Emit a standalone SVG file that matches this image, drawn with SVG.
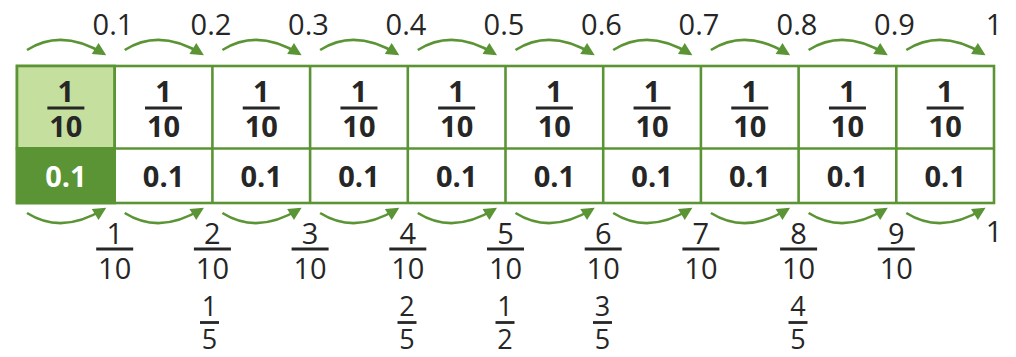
<svg xmlns="http://www.w3.org/2000/svg" width="1016" height="357" viewBox="0 0 1016 357">
<style>
.t{font-family:"Open Sans","Noto Sans",sans-serif;fill:#262626;text-anchor:middle}
.lab{font-size:29px}
.fr{font-size:29px}
.sf{font-size:27px}
.cf{font-size:29px;font-weight:bold}
.cv{font-size:29px;font-weight:bold}
.w{fill:#ffffff}
.bar{stroke:#262626;stroke-width:2.8}
.arc{fill:none;stroke:#5a9434;stroke-width:2.6;marker-end:url(#ah)}
.cell{fill:#ffffff;stroke:#5a9434;stroke-width:2.6}
</style>
<defs>
<marker id="ah" viewBox="0 0 10 10" refX="8" refY="5" markerWidth="15" markerHeight="13" markerUnits="userSpaceOnUse" orient="auto">
<path d="M0,0 L10,5 L0,10 z" fill="#5a9434"/>
</marker>
<g id="cellfrac">
<text class="t cf" x="0" y="102">1</text>
<line class="bar" x1="-18.5" y1="108" x2="18.5" y2="108"/>
<text class="t cf" x="0" y="137">10</text>
</g>
</defs>
<rect width="1016" height="357" fill="#ffffff"/>

<g id="grid">
<rect class="cell" x="17" y="66" width="977" height="137"/>
<rect x="17" y="66" width="97.7" height="82.5" fill="#c5df9f" stroke="#5a9434" stroke-width="2.6"/>
<rect x="17" y="148.5" width="97.7" height="54.5" fill="#5a9434" stroke="#5a9434" stroke-width="2.6"/>
<line x1="17" y1="148.5" x2="994" y2="148.5" stroke="#5a9434" stroke-width="2.6"/>
<g stroke="#5a9434" stroke-width="2.6">
<line x1="114.7" y1="66" x2="114.7" y2="203"/>
<line x1="212.4" y1="66" x2="212.4" y2="203"/>
<line x1="310.1" y1="66" x2="310.1" y2="203"/>
<line x1="407.8" y1="66" x2="407.8" y2="203"/>
<line x1="505.5" y1="66" x2="505.5" y2="203"/>
<line x1="603.2" y1="66" x2="603.2" y2="203"/>
<line x1="700.9" y1="66" x2="700.9" y2="203"/>
<line x1="798.6" y1="66" x2="798.6" y2="203"/>
<line x1="896.3" y1="66" x2="896.3" y2="203"/>
</g>
</g>

<g id="cells">
<use href="#cellfrac" x="65.85"/>
<use href="#cellfrac" x="163.55"/>
<use href="#cellfrac" x="261.25"/>
<use href="#cellfrac" x="358.95"/>
<use href="#cellfrac" x="456.65"/>
<use href="#cellfrac" x="554.35"/>
<use href="#cellfrac" x="652.05"/>
<use href="#cellfrac" x="749.75"/>
<use href="#cellfrac" x="847.45"/>
<use href="#cellfrac" x="945.15"/>
<text class="t cv w" x="65.85" y="187">0.1</text>
<text class="t cv" x="163.55" y="187">0.1</text>
<text class="t cv" x="261.25" y="187">0.1</text>
<text class="t cv" x="358.95" y="187">0.1</text>
<text class="t cv" x="456.65" y="187">0.1</text>
<text class="t cv" x="554.35" y="187">0.1</text>
<text class="t cv" x="652.05" y="187">0.1</text>
<text class="t cv" x="749.75" y="187">0.1</text>
<text class="t cv" x="847.45" y="187">0.1</text>
<text class="t cv" x="945.15" y="187">0.1</text>
</g>

<g id="connectors">
<path class="arc" d="M27,50 Q62,28 104,54"/>
<path class="arc" d="M124.7,50 Q159.7,28 201.7,54"/>
<path class="arc" d="M222.4,50 Q257.4,28 299.4,54"/>
<path class="arc" d="M320.1,50 Q355.1,28 397.1,54"/>
<path class="arc" d="M417.8,50 Q452.8,28 494.8,54"/>
<path class="arc" d="M515.5,50 Q550.5,28 592.5,54"/>
<path class="arc" d="M613.2,50 Q648.2,28 690.2,54"/>
<path class="arc" d="M710.9,50 Q745.9,28 787.9,54"/>
<path class="arc" d="M808.6,50 Q843.6,28 885.6,54"/>
<path class="arc" d="M906.3,50 Q941.3,28 983.3,54"/>
<path class="arc" d="M27,213 Q62,235 104,209"/>
<path class="arc" d="M124.7,213 Q159.7,235 201.7,209"/>
<path class="arc" d="M222.4,213 Q257.4,235 299.4,209"/>
<path class="arc" d="M320.1,213 Q355.1,235 397.1,209"/>
<path class="arc" d="M417.8,213 Q452.8,235 494.8,209"/>
<path class="arc" d="M515.5,213 Q550.5,235 592.5,209"/>
<path class="arc" d="M613.2,213 Q648.2,235 690.2,209"/>
<path class="arc" d="M710.9,213 Q745.9,235 787.9,209"/>
<path class="arc" d="M808.6,213 Q843.6,235 885.6,209"/>
<path class="arc" d="M906.3,213 Q941.3,235 983.3,209"/>
</g>

<g id="top-labels">
<text class="t lab" x="113" y="35">0.1</text>
<text class="t lab" x="211" y="35">0.2</text>
<text class="t lab" x="308.5" y="35">0.3</text>
<text class="t lab" x="406" y="35">0.4</text>
<text class="t lab" x="504" y="35">0.5</text>
<text class="t lab" x="601.5" y="35">0.6</text>
<text class="t lab" x="699" y="35">0.7</text>
<text class="t lab" x="797" y="35">0.8</text>
<text class="t lab" x="894.5" y="35">0.9</text>
<text class="t lab" x="994" y="35">1</text>
</g>

<g id="bottom-labels">
<text class="t fr" x="114.7" y="244">1</text><text class="t fr" x="114.7" y="279">10</text>
<text class="t fr" x="212.4" y="244">2</text><text class="t fr" x="212.4" y="279">10</text>
<text class="t fr" x="310.1" y="244">3</text><text class="t fr" x="310.1" y="279">10</text>
<text class="t fr" x="407.8" y="244">4</text><text class="t fr" x="407.8" y="279">10</text>
<text class="t fr" x="505.5" y="244">5</text><text class="t fr" x="505.5" y="279">10</text>
<text class="t fr" x="603.2" y="244">6</text><text class="t fr" x="603.2" y="279">10</text>
<text class="t fr" x="700.9" y="244">7</text><text class="t fr" x="700.9" y="279">10</text>
<text class="t fr" x="798.6" y="244">8</text><text class="t fr" x="798.6" y="279">10</text>
<text class="t fr" x="896.3" y="244">9</text><text class="t fr" x="896.3" y="279">10</text>
<g class="bar">
<line x1="96.2" y1="249" x2="133.2" y2="249"/>
<line x1="193.9" y1="249" x2="230.9" y2="249"/>
<line x1="291.6" y1="249" x2="328.6" y2="249"/>
<line x1="389.3" y1="249" x2="426.3" y2="249"/>
<line x1="487" y1="249" x2="524" y2="249"/>
<line x1="584.7" y1="249" x2="621.7" y2="249"/>
<line x1="682.4" y1="249" x2="719.4" y2="249"/>
<line x1="780.1" y1="249" x2="817.1" y2="249"/>
<line x1="877.8" y1="249" x2="914.8" y2="249"/>
</g>
<text class="t fr" x="994" y="242">1</text>
</g>

<g id="simplified">
<text class="t sf" x="209.5" y="316">1</text><text class="t sf" x="209.5" y="349">5</text>
<line class="bar" x1="200" y1="322.5" x2="219" y2="322.5"/>
<text class="t sf" x="407" y="316">2</text><text class="t sf" x="407" y="349">5</text>
<line class="bar" x1="397.5" y1="322.5" x2="416.5" y2="322.5"/>
<text class="t sf" x="505" y="316">1</text><text class="t sf" x="505" y="349">2</text>
<line class="bar" x1="495.5" y1="322.5" x2="514.5" y2="322.5"/>
<text class="t sf" x="602.5" y="316">3</text><text class="t sf" x="602.5" y="349">5</text>
<line class="bar" x1="593" y1="322.5" x2="612" y2="322.5"/>
<text class="t sf" x="798" y="316">4</text><text class="t sf" x="798" y="349">5</text>
<line class="bar" x1="788.5" y1="322.5" x2="807.5" y2="322.5"/>
</g>
</svg>
